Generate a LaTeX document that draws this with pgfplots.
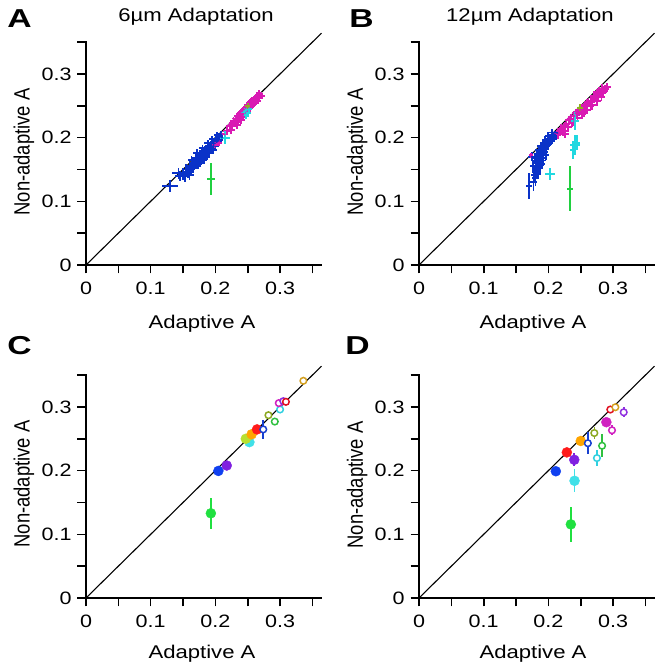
\documentclass[border=0pt]{standalone}
\usepackage{fontspec}
\setmainfont{Liberation Sans}
\usepackage{pgfplots}
\usepackage{pgfplotstable}
\pgfplotsset{compat=1.18}

\definecolor{blueA}{HTML}{0A32C8}
\definecolor{magA}{HTML}{D91AB3}
\definecolor{cyanA}{HTML}{20D8E0}
\definecolor{greenA}{HTML}{20D040}
\definecolor{oliveA}{HTML}{90B020}
\definecolor{cgreen}{HTML}{20E040}
\definecolor{cblue}{HTML}{1040F0}
\definecolor{cpurple}{HTML}{8020E0}
\definecolor{ccyan}{HTML}{40E0E8}
\definecolor{cyg}{HTML}{B8E030}
\definecolor{corange}{HTML}{FFA500}
\definecolor{cred}{HTML}{FF1A1A}
\definecolor{cdblue}{HTML}{1840D0}
\definecolor{colive}{HTML}{8CA820}
\definecolor{cgreeno}{HTML}{30C040}
\definecolor{ccyano}{HTML}{30D0E0}
\definecolor{cmag}{HTML}{D020C0}
\definecolor{cpurpleo}{HTML}{9030E0}
\definecolor{credo}{HTML}{E01020}
\definecolor{cgold}{HTML}{D4A020}

% ---------------- Panel A data ----------------
\pgfplotstableread{
x y ex ey
0.130 0.124 0.012 0.009
0.143 0.144 0.010 0.009
0.150 0.143 0.008 0.010
0.155 0.150 0.007 0.008
0.158 0.146 0.007 0.009
0.160 0.155 0.007 0.008
0.162 0.150 0.007 0.008
0.165 0.160 0.006 0.007
0.167 0.156 0.006 0.007
0.168 0.163 0.006 0.007
0.170 0.160 0.006 0.007
0.170 0.168 0.006 0.007
0.172 0.164 0.006 0.007
0.174 0.170 0.006 0.006
0.175 0.166 0.006 0.007
0.176 0.174 0.006 0.006
0.178 0.170 0.006 0.006
0.179 0.176 0.005 0.006
0.180 0.173 0.006 0.006
0.181 0.168 0.006 0.007
0.182 0.178 0.005 0.006
0.183 0.175 0.005 0.006
0.184 0.180 0.005 0.006
0.185 0.172 0.006 0.006
0.186 0.183 0.005 0.006
0.187 0.178 0.005 0.006
0.188 0.185 0.005 0.006
0.189 0.181 0.005 0.006
0.190 0.176 0.006 0.006
0.191 0.187 0.005 0.005
0.192 0.183 0.005 0.006
0.193 0.190 0.005 0.005
0.194 0.186 0.005 0.006
0.195 0.181 0.005 0.006
0.196 0.192 0.005 0.005
0.197 0.188 0.005 0.006
0.198 0.195 0.005 0.005
0.199 0.191 0.005 0.005
0.200 0.186 0.005 0.006
0.201 0.197 0.005 0.005
0.202 0.193 0.005 0.005
0.204 0.199 0.005 0.005
0.205 0.195 0.005 0.005
0.207 0.201 0.005 0.005
0.209 0.205 0.005 0.005
0.210 0.200 0.005 0.005
0.160 0.142 0.007 0.008
0.166 0.152 0.006 0.007
0.173 0.158 0.006 0.007
0.177 0.162 0.006 0.007
0.183 0.166 0.006 0.007
0.153 0.139 0.007 0.009
0.145 0.140 0.008 0.008
0.171 0.176 0.006 0.006
0.180 0.183 0.005 0.006
0.188 0.192 0.005 0.005
0.195 0.198 0.005 0.005
0.203 0.204 0.005 0.005
0.163 0.165 0.006 0.006
0.176 0.160 0.006 0.006
0.186 0.170 0.006 0.006
0.197 0.180 0.005 0.006
}\blueAtab
\pgfplotstableread{
x y ex ey
0.200 0.188 0.005 0.005
0.205 0.192 0.005 0.005
0.214 0.205 0.006 0.006
0.218 0.210 0.006 0.006
0.222 0.218 0.006 0.006
0.224 0.212 0.006 0.006
0.226 0.220 0.006 0.006
0.228 0.226 0.006 0.006
0.230 0.222 0.006 0.006
0.232 0.230 0.006 0.006
0.233 0.220 0.006 0.006
0.234 0.227 0.006 0.006
0.235 0.234 0.006 0.006
0.237 0.229 0.006 0.006
0.238 0.237 0.006 0.006
0.239 0.227 0.006 0.006
0.240 0.233 0.006 0.006
0.241 0.241 0.006 0.006
0.243 0.236 0.006 0.006
0.244 0.244 0.006 0.006
0.246 0.239 0.006 0.006
0.247 0.247 0.006 0.006
0.249 0.242 0.006 0.006
0.250 0.251 0.006 0.006
0.252 0.246 0.006 0.006
0.253 0.254 0.006 0.006
0.255 0.249 0.006 0.006
0.256 0.257 0.006 0.006
0.258 0.252 0.006 0.006
0.259 0.260 0.006 0.006
0.261 0.255 0.006 0.006
0.262 0.263 0.006 0.006
0.264 0.258 0.006 0.006
0.265 0.266 0.006 0.006
0.267 0.262 0.006 0.006
0.268 0.268 0.006 0.006
0.271 0.266 0.006 0.006
}\magAtab
\pgfplotstableread{
x y ex ey
0.215 0.200 0.008 0.010
0.245 0.240 0.005 0.006
0.248 0.243 0.005 0.006
0.250 0.238 0.005 0.006
0.252 0.245 0.005 0.006
0.247 0.236 0.005 0.006
}\cyanAtab

% ---------------- Panel B data ----------------
\pgfplotstableread{
x y ex ey
0.170 0.124 0.005 0.020
0.177 0.130 0.005 0.014
0.180 0.136 0.005 0.012
0.178 0.142 0.005 0.012
0.181 0.150 0.005 0.012
0.176 0.155 0.005 0.010
0.180 0.160 0.005 0.009
0.183 0.165 0.005 0.009
0.185 0.158 0.005 0.009
0.186 0.170 0.005 0.008
0.188 0.162 0.005 0.008
0.189 0.175 0.005 0.007
0.190 0.168 0.005 0.007
0.191 0.180 0.005 0.007
0.192 0.172 0.005 0.007
0.193 0.185 0.005 0.006
0.194 0.177 0.005 0.006
0.195 0.188 0.005 0.006
0.196 0.182 0.005 0.006
0.197 0.192 0.005 0.006
0.198 0.186 0.005 0.006
0.199 0.195 0.005 0.006
0.200 0.190 0.005 0.006
0.201 0.198 0.005 0.006
0.202 0.193 0.005 0.006
0.203 0.200 0.005 0.006
0.205 0.196 0.005 0.006
0.206 0.203 0.005 0.006
0.208 0.199 0.005 0.006
0.210 0.205 0.005 0.006
0.212 0.202 0.005 0.006
0.214 0.207 0.005 0.006
0.184 0.145 0.005 0.010
0.187 0.152 0.005 0.010
0.190 0.158 0.005 0.008
0.182 0.175 0.005 0.007
0.185 0.180 0.005 0.007
0.188 0.187 0.005 0.006
0.192 0.192 0.005 0.006
0.195 0.197 0.005 0.006
0.200 0.203 0.005 0.006
0.205 0.208 0.005 0.006
0.174 0.170 0.005 0.007
0.192 0.164 0.005 0.008
0.196 0.172 0.005 0.007
0.179 0.168 0.005 0.008
0.183 0.155 0.005 0.009
}\blueBtab
\pgfplotstableread{
x y ex ey
0.173 0.172 0.003 0.004
0.215 0.205 0.006 0.007
0.218 0.210 0.006 0.007
0.220 0.214 0.006 0.007
0.223 0.210 0.006 0.007
0.225 0.218 0.006 0.007
0.226 0.206 0.006 0.007
0.228 0.222 0.006 0.007
0.230 0.216 0.006 0.007
0.232 0.227 0.006 0.007
0.235 0.230 0.006 0.007
0.237 0.223 0.006 0.007
0.240 0.234 0.006 0.007
0.240 0.226 0.006 0.007
0.242 0.238 0.006 0.007
0.245 0.231 0.006 0.007
0.247 0.241 0.006 0.007
0.250 0.244 0.006 0.007
0.252 0.237 0.006 0.007
0.255 0.248 0.006 0.007
0.257 0.251 0.006 0.007
0.260 0.244 0.006 0.007
0.260 0.253 0.006 0.007
0.262 0.255 0.006 0.007
0.265 0.258 0.006 0.007
0.267 0.251 0.006 0.007
0.270 0.261 0.006 0.007
0.272 0.264 0.006 0.007
0.275 0.257 0.006 0.007
0.275 0.269 0.006 0.007
0.277 0.266 0.006 0.007
0.280 0.270 0.006 0.007
0.282 0.264 0.006 0.007
0.283 0.277 0.006 0.007
0.285 0.272 0.006 0.007
0.287 0.276 0.006 0.007
0.290 0.279 0.006 0.007
0.255 0.240 0.006 0.007
0.265 0.250 0.006 0.007
0.270 0.266 0.006 0.007
0.278 0.272 0.006 0.007
}\magBtab
\pgfplotstableread{
x y ex ey
0.202 0.143 0.008 0.010
0.241 0.226 0.006 0.014
0.241 0.188 0.008 0.016
0.238 0.180 0.005 0.014
0.244 0.192 0.005 0.012
}\cyanBtab

\tikzset{lab/.style={font=\fontsize{18.5}{18.5}\selectfont, xscale=1.2, inner sep=0pt},
         let/.style={font=\fontsize{26}{26}\selectfont\bfseries, xscale=1.3, inner sep=0pt}}
\pgfplotsset{
  panel/.style={
    scale only axis, width=235.5bp, height=224.2bp,
    xmin=0, xmax=0.364, ymin=0, ymax=0.352,
    axis x line*=bottom, axis y line*=left,
    axis line style={line width=1.6bp, black},
    xtick={0,0.05,0.1,0.15,0.2,0.25,0.3,0.35},
    ytick={0,0.05,0.1,0.15,0.2,0.25,0.3,0.35},
    xticklabels={0,,0.1,,0.2,,0.3,},
    yticklabels={0,,0.1,,0.2,,0.3,},
    tick align=outside, major tick length=8.5bp,
    tick style={line width=1.6bp, black},
    tick label style={font=\fontsize{18}{18}\selectfont, xscale=1.2},
    xticklabel style={anchor=north, yshift=-4.5bp},
    yticklabel style={anchor=east, xshift=-1.5bp},
    clip=false,
  },
  cross/.style={only marks, mark=*, mark size=0.8bp, color=#1,
    error bars/.cd, x dir=both, x explicit, y dir=both, y explicit,
    error mark=none, error bar style={line width=1.9bp, #1}},
}
\newcommand{\fpt}[5]{\addplot[only marks, mark=*, mark size=5bp, color=#1,
   error bars/.cd, x dir=both, x explicit, y dir=both, y explicit,
   error mark=none, error bar style={line width=1.6bp,#1}]
   coordinates {(#2,#3) +- (#4,#5)};}
\newcommand{\opt}[5]{\addplot[only marks, mark=*, mark size=3.3bp, color=#1,
   mark options={fill=white, draw=#1, line width=1.5bp},
   error bars/.cd, x dir=both, x explicit, y dir=both, y explicit,
   error mark=none, error bar style={line width=1.6bp,#1}]
   coordinates {(#2,#3) +- (#4,#5)};}
\newcommand{\diag}{\addplot[black, line width=1.1bp] coordinates {(0,0) (0.364,0.364)};}

\begin{document}
\begin{tikzpicture}
\useasboundingbox (0,0) rectangle (661bp,672bp);
% Panel A
\begin{axis}[panel, at={(86bp,407bp)}, anchor=south west]
\diag
\addplot[cross=blueA] table[x=x,y=y,x error=ex,y error=ey] {\blueAtab};
\addplot[cross=magA] table[x=x,y=y,x error=ex,y error=ey] {\magAtab};
\addplot[cross=cyanA] table[x=x,y=y,x error=ex,y error=ey] {\cyanAtab};
\addplot[cross=oliveA] coordinates {(0.250,0.250) +- (0.004,0.005)};
\addplot[cross=greenA] coordinates {(0.193,0.135) +- (0.006,0.025)};
\end{axis}
% Panel B
\begin{axis}[panel, at={(419bp,407bp)}, anchor=south west]
\diag
\addplot[cross=blueA] table[x=x,y=y,x error=ex,y error=ey] {\blueBtab};
\addplot[cross=magA] table[x=x,y=y,x error=ex,y error=ey] {\magBtab};
\addplot[cross=cyanA] table[x=x,y=y,x error=ex,y error=ey] {\cyanBtab};
\addplot[cross=oliveA] coordinates {(0.249,0.247) +- (0.005,0.005)};
\addplot[cross=greenA] coordinates {(0.233,0.120) +- (0.005,0.035)};
\end{axis}
% Panel C
\begin{axis}[panel, at={(86bp,74bp)}, anchor=south west]
\diag
\fpt{cgreen}{0.193}{0.133}{0.002}{0.024}
\fpt{cblue}{0.2046}{0.1995}{0.003}{0.006}
\fpt{cpurple}{0.2175}{0.208}{0.003}{0.005}
\fpt{ccyan}{0.2526}{0.2447}{0.003}{0.005}
\fpt{cyg}{0.247}{0.250}{0.002}{0.003}
\fpt{corange}{0.256}{0.257}{0.002}{0.003}
\fpt{cred}{0.2644}{0.2647}{0.002}{0.003}
\opt{cdblue}{0.274}{0.2647}{0.006}{0.015}
\opt{colive}{0.282}{0.287}{0.004}{0.004}
\opt{cgreeno}{0.2918}{0.277}{0.004}{0.004}
\opt{ccyano}{0.300}{0.296}{0.003}{0.005}
\opt{cmag}{0.298}{0.306}{0.003}{0.003}
\opt{cpurpleo}{0.305}{0.309}{0.003}{0.004}
\opt{credo}{0.309}{0.308}{0.002}{0.003}
\opt{cgold}{0.336}{0.341}{0.002}{0.002}
\end{axis}
% Panel D
\begin{axis}[panel, at={(419bp,74bp)}, anchor=south west]
\diag
\fpt{cblue}{0.2115}{0.199}{0.003}{0.006}
\fpt{cred}{0.2285}{0.2286}{0.002}{0.004}
\fpt{cpurple}{0.240}{0.217}{0.002}{0.010}
\fpt{ccyan}{0.2404}{0.184}{0.002}{0.018}
\fpt{cgreen}{0.2347}{0.1156}{0.002}{0.028}
\fpt{corange}{0.250}{0.2465}{0.003}{0.003}
\opt{cdblue}{0.261}{0.243}{0.002}{0.017}
\opt{colive}{0.271}{0.259}{0.002}{0.009}
\opt{cgreeno}{0.283}{0.239}{0.002}{0.018}
\opt{ccyano}{0.275}{0.2197}{0.002}{0.012}
\fpt{cmag}{0.2896}{0.276}{0.003}{0.004}
\opt{cmag}{0.2983}{0.2633}{0.002}{0.008}
\opt{credo}{0.2957}{0.2959}{0.002}{0.003}
\opt{cgold}{0.3035}{0.2995}{0.002}{0.003}
\opt{cpurpleo}{0.3164}{0.2916}{0.002}{0.008}
\end{axis}
% Labels
\node[lab, anchor=base] at (196bp,650bp) {6µm Adaptation};
\node[lab, anchor=base] at (530bp,650bp) {12µm Adaptation};
\node[let, anchor=base west] at (7bp,644bp) {A};
\node[let, anchor=base west] at (349bp,644bp) {B};
\node[let, anchor=base west] at (7bp,317bp) {C};
\node[let, anchor=base west] at (345bp,317bp) {D};
\node[lab, anchor=north] at (202bp,357bp) {Adaptive A};
\node[lab, anchor=north] at (533bp,357bp) {Adaptive A};
\node[lab, anchor=north] at (202bp,27bp) {Adaptive A};
\node[lab, anchor=north] at (533bp,27bp) {Adaptive A};
\node[lab, anchor=north, rotate=90] at (13.3bp,520bp) {Non-adaptive A};
\node[lab, anchor=north, rotate=90] at (346.7bp,520bp) {Non-adaptive A};
\node[lab, anchor=north, rotate=90] at (13.3bp,188bp) {Non-adaptive A};
\node[lab, anchor=north, rotate=90] at (346.7bp,187bp) {Non-adaptive A};
\end{tikzpicture}
\end{document}
